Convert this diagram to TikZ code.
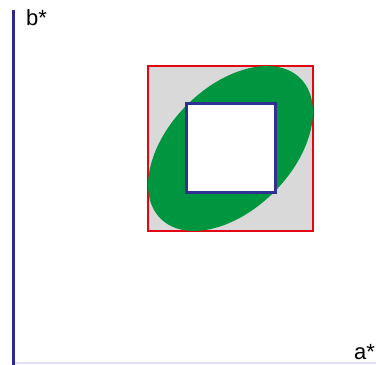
\documentclass[tikz,border=0pt]{standalone}
\usepackage{fontspec}
\setmainfont{Liberation Sans}
\usetikzlibrary{positioning}
\definecolor{axisblue}{HTML}{2E2A8C}
\definecolor{axislight}{HTML}{E2E0F2}
\definecolor{boxred}{HTML}{E30613}
\definecolor{gamutgreen}{HTML}{009640}
\definecolor{gamutgray}{HTML}{D9D9D9}
\definecolor{coreblue}{HTML}{2E3192}
\tikzset{
  axislabel/.style={font=\fontsize{22}{26}\selectfont, inner sep=0pt, anchor=base west},
  outerbox/.style={draw=boxred, fill=gamutgray, line width=2.5pt},
  innerbox/.style={draw=coreblue, fill=white, line width=3pt},
  gamut/.style={fill=gamutgreen}
}
\begin{document}
\begin{tikzpicture}[x=1pt, y=1pt]
  \useasboundingbox (0,0) rectangle (376,365);
  % axes
  \draw[axislight, line width=1.5pt] (13,2) -- (376,2);
  \draw[axisblue, line width=3pt] (13,0) -- (13,355);
  \node[axislabel] (bstar) at (26,339) {b*};
  \node[axislabel] (astar) at (354,5) {a*};
  % boxes and ellipse
  \draw[outerbox] (148,134) rectangle (313,299);
  \coordinate (centre) at (230.5,216.5);
  \fill[gamut, rotate around={45:(centre)}] (centre) ellipse [x radius=99, y radius=61.6];
  \draw[innerbox] (186,172) rectangle (275,261);
\end{tikzpicture}
\end{document}
